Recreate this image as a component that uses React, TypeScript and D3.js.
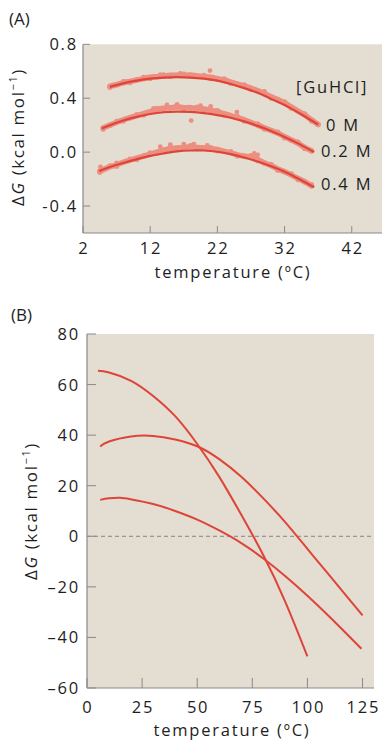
import React from "react";
import * as d3 from "d3";

// ---------- Panel A data ----------
const fit0T = [6, 8, 10, 12, 14, 16, 18, 20, 22, 24, 26, 28, 30, 32, 34, 36, 37];
const fit0V = [0.484, 0.51, 0.53, 0.545, 0.553, 0.556, 0.553, 0.545, 0.53, 0.505, 0.475, 0.44, 0.395, 0.35, 0.295, 0.235, 0.205];
const fit2T = [4.8, 6, 8, 10, 12, 14, 16, 18, 20, 22, 24, 26, 28, 30, 32, 34, 36.4];
const fit2V = [0.175, 0.2, 0.235, 0.262, 0.283, 0.296, 0.3, 0.298, 0.29, 0.275, 0.255, 0.228, 0.195, 0.157, 0.113, 0.065, 0.0];
const fit4T = [4.4, 6, 8, 10, 12, 14, 16, 18, 20, 22, 24, 26, 28, 30, 32, 34, 36.4];
const fit4V = [-0.14, -0.11, -0.08, -0.052, -0.028, -0.01, 0.005, 0.012, 0.012, 0.003, -0.015, -0.04, -0.07, -0.105, -0.145, -0.195, -0.26];

const data0T = [6, 7, 8, 9, 10, 11, 12, 13, 14, 15, 16, 17, 18, 19, 20, 21, 22, 23, 24, 25, 26, 27, 28, 29, 30, 31, 32, 33, 34, 35, 36, 37];
const data0V = [0.49, 0.5, 0.515, 0.525, 0.535, 0.545, 0.555, 0.56, 0.565, 0.57, 0.57, 0.57, 0.572, 0.565, 0.56, 0.555, 0.545, 0.535, 0.52, 0.505, 0.49, 0.475, 0.455, 0.435, 0.41, 0.39, 0.365, 0.335, 0.305, 0.275, 0.24, 0.205];
const data2T = [5, 6, 7, 8, 9, 10, 11, 12, 13, 14, 15, 16, 17, 18, 19, 20, 21, 22, 23, 24, 25, 26, 27, 28, 29, 30, 31, 32, 33, 34, 35, 36];
const data2V = [0.18, 0.2, 0.22, 0.24, 0.255, 0.27, 0.285, 0.3, 0.315, 0.325, 0.33, 0.335, 0.33, 0.33, 0.325, 0.32, 0.31, 0.3, 0.285, 0.27, 0.255, 0.24, 0.22, 0.2, 0.18, 0.16, 0.14, 0.115, 0.09, 0.065, 0.035, 0.01];
const data4T = [4.5, 5, 6, 7, 8, 9, 10, 11, 12, 13, 14, 15, 16, 17, 18, 19, 20, 21, 22, 23, 24, 25, 26, 27, 28, 29, 30, 31, 32, 33, 34, 35, 36];
const data4V = [-0.14, -0.13, -0.11, -0.095, -0.075, -0.06, -0.045, -0.03, -0.015, 0.0, 0.015, 0.025, 0.03, 0.035, 0.04, 0.035, 0.03, 0.025, 0.02, 0.005, -0.005, -0.02, -0.03, -0.035, -0.055, -0.08, -0.1, -0.125, -0.145, -0.17, -0.195, -0.22, -0.25];

const extraT = [20.9, 13.5, 16.5, 29, 18.1, 24.9, 14.5, 16, 19.5, 21, 12.5, 13.5, 15, 17, 18.5, 20.5, 27.5, 28, 4.6, 7];
const extraV = [0.605, 0.575, 0.585, 0.45, 0.234, 0.297, 0.35, 0.355, 0.345, 0.34, 0.325, 0.04, 0.055, 0.06, 0.06, 0.05, -0.01, -0.02, -0.11, -0.08];

const aXTicks = [2, 12, 22, 32, 42];
const aYTicks = [0.8, 0.4, 0.0, -0.4];
const aYLabels = ["0.8", "0.4", "0.0", "-0.4"];
const concLabels = ["[GuHCl]", "0 M", "0.2 M", "0.4 M"];

// ---------- Panel B data ----------
const b1T = [5, 10, 20, 30, 40, 50, 60, 70, 80, 90, 100];
const b1V = [65.5, 64.8, 61.5, 55.5, 47.5, 36.5, 23.5, 8.5, -7.5, -26, -47.5];
const b2T = [6, 10, 20, 30, 40, 50, 60, 70, 80, 90, 100, 110, 120, 125];
const b2V = [35.5, 37.5, 39.5, 39.7, 38.3, 35.6, 30.5, 23.5, 15, 5.5, -5, -15.5, -26, -31.3];
const b3T = [6, 10, 15, 20, 30, 40, 50, 60, 70, 80, 90, 100, 110, 120, 124.5];
const b3V = [14.4, 15, 15.2, 14.6, 12.8, 10, 6.6, 2.3, -2.7, -8.8, -15.8, -23.5, -31.8, -40.5, -44.5];

const bXTicks = [0, 25, 50, 75, 100, 125];
const bYTicks = [80, 60, 40, 20, 0, -20, -40, -60];

const BG = "#e3ddd2";
const RED = "#de4437";
const DOT = "#ec8e80";
const AXIS = "#8a8a8a";
const TEXT = "#1e1e1e";
const FONT = "'Open Sans', sans-serif";
const FS = 16.5;
const LS = 1.8;

function zip(t: number[], v: number[]) {
  return t.map((x, i) => [x, v[i]] as [number, number]);
}

function YTitle({ x, y }: { x: number; y: number }) {
  return (
    <text
      transform={`translate(${x},${y}) rotate(-90)`}
      textAnchor="middle"
      fontSize={17}
      letterSpacing={1.6}
      fill={TEXT}
    >
      Δ<tspan fontStyle="italic">G</tspan> (kcal mol
      <tspan fontSize={11} dy={-7}>−1</tspan>
      <tspan dy={7}>)</tspan>
    </text>
  );
}

export default function App() {
  // Panel A scales
  const ax = d3.scaleLinear().domain([2, 46.5]).range([83, 382]);
  const ay = d3.scaleLinear().domain([-0.6, 0.8]).range([233, 44.3]);
  const aLine = d3
    .line<[number, number]>()
    .x((d) => ax(d[0]))
    .y((d) => ay(d[1]))
    .curve(d3.curveNatural);
  const aBand = d3
    .line<[number, number]>()
    .x((d) => ax(d[0]))
    .y((d) => ay(d[1]))
    .curve(d3.curveCatmullRom);

  // Panel B scales
  const bx = d3.scaleLinear().domain([0, 130.2]).range([87, 374]);
  const by = d3.scaleLinear().domain([-60, 80]).range([688, 334]);
  const bLine = d3
    .line<[number, number]>()
    .x((d) => bx(d[0]))
    .y((d) => by(d[1]))
    .curve(d3.curveNatural);

  const fits = [zip(fit0T, fit0V), zip(fit2T, fit2V), zip(fit4T, fit4V)];
  const datas = [zip(data0T, data0V), zip(data2T, data2V), zip(data4T, data4V)];
  const extras = zip(extraT, extraV);
  const bCurves = [zip(b1T, b1V), zip(b2T, b2V), zip(b3T, b3V)];

  const concPos: [number, number][] = [
    [296, 93],
    [326, 131],
    [321, 157],
    [321, 190],
  ];

  return (
    <svg
      width={382}
      height={740}
      style={{ position: "absolute", left: 0, top: 0 }}
      fontFamily={FONT}
    >
      {/* ---------------- Panel A ---------------- */}
      <text x={9} y={25} fontSize={17} fill={TEXT}>(A)</text>
      <rect x={83} y={44.3} width={299} height={188.7} fill={BG} />
      {datas.map((d, i) => (
        <path key={"band" + i} d={aBand(d) || ""} fill="none" stroke={DOT} strokeWidth={5.5} strokeLinecap="round" />
      ))}
      {datas.map((d, i) =>
        d.map((p, j) => (
          <circle key={`dp${i}-${j}`} cx={ax(p[0])} cy={ay(p[1]) - ((j % 3) - 1) * 1.2} r={2.6} fill={DOT} />
        ))
      )}
      {extras.map((p, j) => (
        <circle key={"ex" + j} cx={ax(p[0])} cy={ay(p[1])} r={2.4} fill={DOT} />
      ))}
      {fits.map((d, i) => (
        <path key={"fit" + i} d={aLine(d) || ""} fill="none" stroke={RED} strokeWidth={2.2} />
      ))}
      {/* axes A */}
      <line x1={83} y1={44.3} x2={83} y2={233} stroke={AXIS} strokeWidth={1.2} />
      <line x1={83} y1={233} x2={382} y2={233} stroke={AXIS} strokeWidth={1.2} />
      {aYTicks.map((t, i) => (
        <g key={"ayt" + i}>
          <line x1={83} x2={90} y1={ay(t)} y2={ay(t)} stroke={AXIS} strokeWidth={1} />
          <text x={78} y={ay(t)} dy="0.36em" textAnchor="end" fontSize={FS} letterSpacing={LS} fill={TEXT}>
            {aYLabels[i]}
          </text>
        </g>
      ))}
      {aXTicks.map((t) => (
        <g key={"axt" + t}>
          <line x1={ax(t)} x2={ax(t)} y1={233} y2={226} stroke={AXIS} strokeWidth={1} />
          <text x={ax(t) + LS / 2} y={254} textAnchor="middle" fontSize={FS} letterSpacing={LS} fill={TEXT}>
            {t}
          </text>
        </g>
      ))}
      <text x={233} y={278} textAnchor="middle" fontSize={FS} letterSpacing={LS} fill={TEXT}>
        temperature (ºC)
      </text>
      <YTitle x={24} y={137} />
      {concLabels.map((s, i) => (
        <text key={"cl" + i} x={concPos[i][0]} y={concPos[i][1]} fontSize={FS} letterSpacing={LS} fill={TEXT}>
          {s}
        </text>
      ))}

      {/* ---------------- Panel B ---------------- */}
      <text x={11} y={321} fontSize={17} fill={TEXT}>(B)</text>
      <rect x={87} y={334} width={287} height={354} fill={BG} />
      <line x1={87} x2={374} y1={by(0)} y2={by(0)} stroke="#6f6f6f" strokeWidth={0.8} strokeDasharray="4,3" />
      {bCurves.map((d, i) => (
        <path key={"bc" + i} d={bLine(d) || ""} fill="none" stroke={RED} strokeWidth={2} />
      ))}
      <line x1={87} y1={334} x2={87} y2={688} stroke={AXIS} strokeWidth={1.2} />
      <line x1={87} y1={688} x2={374} y2={688} stroke={AXIS} strokeWidth={1.2} />
      {bYTicks.map((t) => (
        <g key={"byt" + t}>
          <line x1={87} x2={96} y1={by(t)} y2={by(t)} stroke={AXIS} strokeWidth={1} />
          <text x={80} y={by(t)} dy="0.36em" textAnchor="end" fontSize={FS} letterSpacing={LS} fill={TEXT}>
            {t < 0 ? "–" + Math.abs(t) : String(t)}
          </text>
        </g>
      ))}
      {bXTicks.map((t) => (
        <g key={"bxt" + t}>
          <line x1={bx(t)} x2={bx(t)} y1={688} y2={678} stroke={AXIS} strokeWidth={1} />
          <text x={bx(t) + LS / 2} y={713} textAnchor="middle" fontSize={FS} letterSpacing={LS} fill={TEXT}>
            {t}
          </text>
        </g>
      ))}
      <text x={232} y={736} textAnchor="middle" fontSize={FS} letterSpacing={LS} fill={TEXT}>
        temperature (ºC)
      </text>
      <YTitle x={37} y={511} />
    </svg>
  );
}
